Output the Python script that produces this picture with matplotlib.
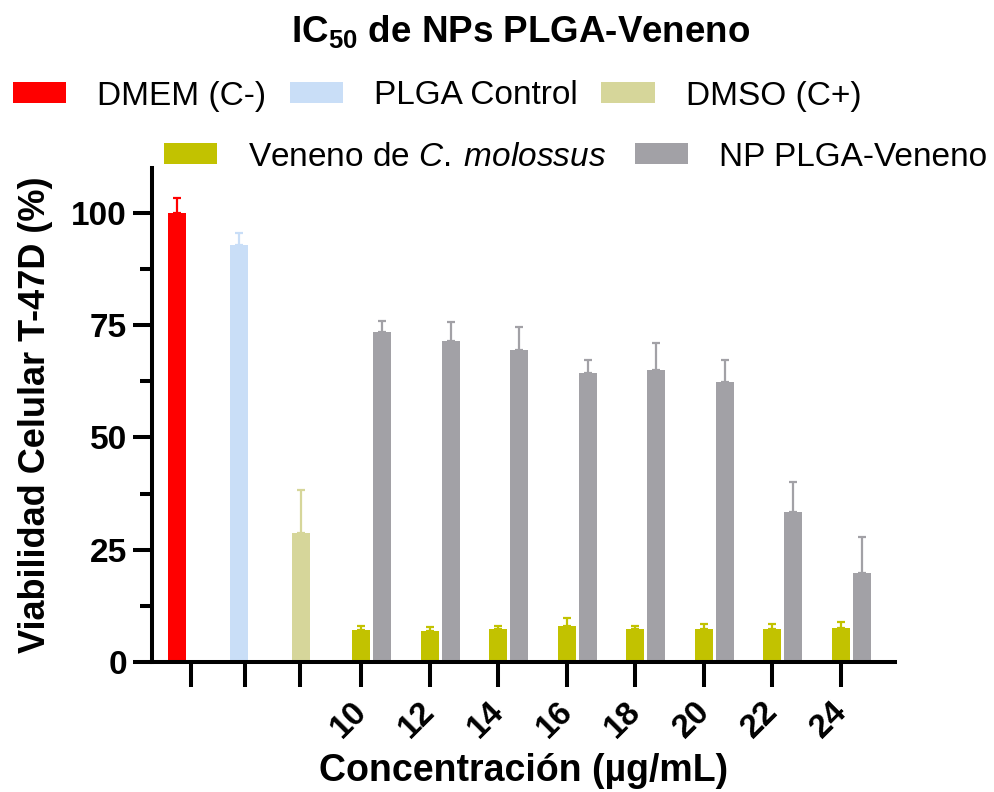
import matplotlib
matplotlib.use("Agg")
import matplotlib.pyplot as plt
import matplotlib.transforms as mtransforms
import numpy as np

plt.rcParams['font.family'] = ['Liberation Sans', 'DejaVu Sans']
plt.rcParams['mathtext.fontset'] = 'custom'
plt.rcParams['mathtext.it'] = 'Liberation Sans:italic'
plt.rcParams['mathtext.rm'] = 'Liberation Sans'
plt.rcParams['mathtext.bf'] = 'Liberation Sans:bold'

# ---- data ----
control_labels = ["DMEM (C-)", "PLGA Control", "DMSO (C+)"]
control_mean = [100.0, 92.9, 28.7]
control_sd = [3.3, 2.6, 9.7]
control_colors = ["#FF0000", "#C9DEF7", "#D6D69A"]

concentrations = ["10", "12", "14", "16", "18", "20", "22", "24"]
veneno_mean = [7.1, 6.8, 7.4, 8.1, 7.3, 7.3, 7.3, 7.5]
veneno_sd = [1.0, 0.9, 0.7, 1.8, 0.8, 1.2, 1.2, 1.3]
np_mean = [73.5, 71.4, 69.5, 64.3, 65.0, 62.3, 33.4, 19.9]
np_sd = [2.4, 4.2, 5.2, 2.9, 6.0, 4.9, 6.7, 7.9]

veneno_label = r"Veneno de $\mathit{C.\:molossus}$"
np_label = "NP PLGA-Veneno"
veneno_color = "#C2C200"
np_color = "#A2A1A6"

# ---- layout (pixel-like axis units) ----
W, H = 995, 792
fig = plt.figure(figsize=(W / 100, H / 100), dpi=100)
ax = fig.add_axes([152 / W, 1 - 662 / H, (895 - 152) / W, (662 - 168) / H])

bw = 18
ctrl_x = np.array([25, 86.5, 148.5])
ctrl_ticks = [39, 93, 148]
grp_x = 209 + 68.57 * np.arange(len(concentrations))
gray_x = grp_x + 21

lw_axis = 2.9

def draw(xs, means, sds, color, label):
    bars = ax.bar(xs, means, width=bw, color=color, label=label, zorder=2)
    ax.errorbar(xs, means, yerr=[np.zeros(len(means)), sds], fmt='none',
                ecolor=color, elinewidth=1.6, capsize=3, capthick=1.6, zorder=1)
    return bars

handles = []
for x, m, s, c, l in zip(ctrl_x, control_mean, control_sd, control_colors, control_labels):
    handles.append(draw([x], [m], [s], c, l))
h_ven = draw(grp_x, veneno_mean, veneno_sd, veneno_color, veneno_label)
h_np = draw(gray_x, np_mean, np_sd, np_color, np_label)

ax.set_xlim(0, 743)
ax.set_ylim(0, 110)
ax.spines['top'].set_visible(False)
ax.spines['right'].set_visible(False)
for sp in ['left', 'bottom']:
    ax.spines[sp].set_linewidth(lw_axis)

ax.set_yticks([0, 25, 50, 75, 100])
ax.set_yticks([12.5, 37.5, 62.5, 87.5], minor=True)
ax.tick_params(axis='y', which='major', length=14, width=lw_axis, labelsize=24, pad=4)
ax.tick_params(axis='y', which='minor', length=8.5, width=lw_axis)
for t in ax.get_yticklabels():
    t.set_fontweight('bold')

ax.set_xticks(list(ctrl_ticks) + list(grp_x))
ax.set_xticklabels(["", "", ""] + concentrations, rotation=45,
                   ha='right', va='top', rotation_mode='anchor',
                   fontsize=24, fontweight='bold')
ax.tick_params(axis='x', which='major', length=18, width=lw_axis, pad=5)
shift = mtransforms.ScaledTranslation(-10 / 100, -2 / 100, fig.dpi_scale_trans)
for t in ax.get_xticklabels():
    t.set_transform(t.get_transform() + shift)

ax.set_ylabel("Viabilidad Celular T-47D (%)", fontsize=26, fontweight='bold', labelpad=13)
ax.set_xlabel("Concentración (µg/mL)", fontsize=27, fontweight='bold', labelpad=6)

fig.text(521 / W, 1 - 32 / H, r"IC$_{\mathbf{50}}$ de NPs PLGA-Veneno", ha='center', va='center',
         fontsize=26.5, fontweight='bold')

leg_kw = dict(frameon=False, fontsize=24, handlelength=1.6, handleheight=0.57,
              handletextpad=0.93, borderpad=0, borderaxespad=0, labelspacing=0)
l1 = fig.legend(handles=handles, labels=control_labels, ncol=3, loc='center left',
                bbox_to_anchor=(13 / W, 1 - 96 / H), columnspacing=0.7, **leg_kw)
l2 = fig.legend(handles=[h_ven, h_np], labels=[veneno_label, np_label], ncol=2,
                loc='center left', bbox_to_anchor=(164 / W, 1 - 157 / H),
                columnspacing=0.85, **leg_kw)

fig.savefig("out.png", dpi=100)
